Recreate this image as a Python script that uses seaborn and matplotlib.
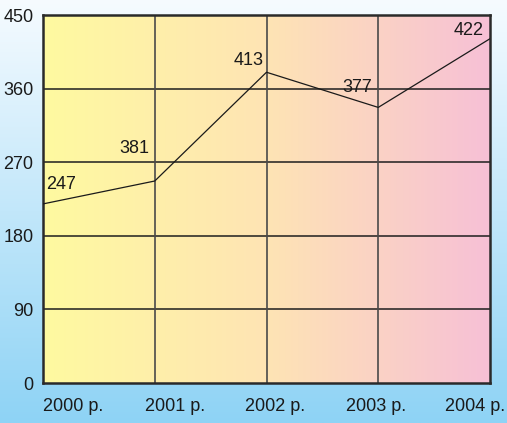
import numpy as np
import pandas as pd
import matplotlib
matplotlib.use("Agg")
import matplotlib.pyplot as plt
import matplotlib.transforms as mtransforms
from matplotlib.colors import LinearSegmentedColormap
import seaborn as sns

# Data
years = ["2000 р.", "2001 р.", "2002 р.", "2003 р.", "2004 р."]
values = [219, 247, 380, 337, 421]
value_labels = ["247", "381", "413", "377", "422"]
y_ticks = [0, 90, 180, 270, 360, 450]

sns.set_theme(style="white")
plt.rcParams["font.family"] = ["Liberation Sans", "DejaVu Sans"]
fs = 13

fig = plt.figure(figsize=(5.07, 4.23), dpi=100)

# Figure background: vertical gradient from near-white to light sky blue
bg = fig.add_axes([0, 0, 1, 1], zorder=-10)
bg_cmap = LinearSegmentedColormap.from_list("sky", ["#f6fbff", "#8ed3f5"])
bg.imshow(np.linspace(0, 1, 256).reshape(-1, 1), cmap=bg_cmap, aspect="auto",
          extent=(0, 1, 0, 1), origin="upper")
bg.set_axis_off()

ax = fig.add_axes([43 / 507, 40 / 423, 447 / 507, 368 / 423])
ax.set_xlim(0, 4)
ax.set_ylim(0, 450)

# Plot area: horizontal gradient yellow -> peach -> pink
pa_cmap = LinearSegmentedColormap.from_list("warm", ["#fffaa0", "#fee4b4", "#f7c0d6"])
ax.imshow(np.linspace(0, 1, 256).reshape(1, -1), cmap=pa_cmap, aspect="auto",
          extent=(0, 4, 0, 450), zorder=0)

df = pd.DataFrame({"x": np.arange(len(years)), "value": values})
sns.lineplot(data=df, x="x", y="value", ax=ax, color="#1a1a1a", linewidth=0.9,
             zorder=5)

# Grid
for yv in y_ticks[1:-1]:
    ax.axhline(yv, color="#1e1e1e", linewidth=1.1, zorder=2)
for xv in range(1, len(years) - 1):
    ax.axvline(xv, color="#4a4a4a", linewidth=1.2, zorder=2)

for sp in ax.spines.values():
    sp.set_visible(True)
    sp.set_color("#2a2a2a")
    sp.set_linewidth(1.8)

ax.set_yticks(y_ticks)
ax.set_yticklabels([str(t) for t in y_ticks], fontsize=fs, color="#1a1a1a")
ax.set_xticks(range(len(years)))
ax.set_xticklabels(years, fontsize=fs, color="#1a1a1a", ha="left")
ax.tick_params(axis="y", length=0, pad=7)
ax.tick_params(axis="x", length=0, pad=11)
ax.set_xlabel("")
ax.set_ylabel("")

# Shift the year labels so they sit evenly along the bottom edge
x_shifts = [0, -10, -21, -32, -45]
for lbl, dx in zip(ax.get_xticklabels(), x_shifts):
    lbl.set_transform(lbl.get_transform() +
                      mtransforms.ScaledTranslation(dx / 100, 0, fig.dpi_scale_trans))

# Value annotations next to each point
label_offsets = [(3, 19, "left"), (-5, 33, "right"), (-3, 12, "right"),
                 (-6, 20, "right"), (-6, 8, "right")]
for i, (txt, (dx, dy, ha)) in enumerate(zip(value_labels, label_offsets)):
    ax.annotate(txt, (i, values[i]), xytext=(dx, dy), textcoords="offset pixels",
                ha=ha, va="center", fontsize=fs, color="#1a1a1a", zorder=6)

fig.savefig("out.png", dpi=100)
